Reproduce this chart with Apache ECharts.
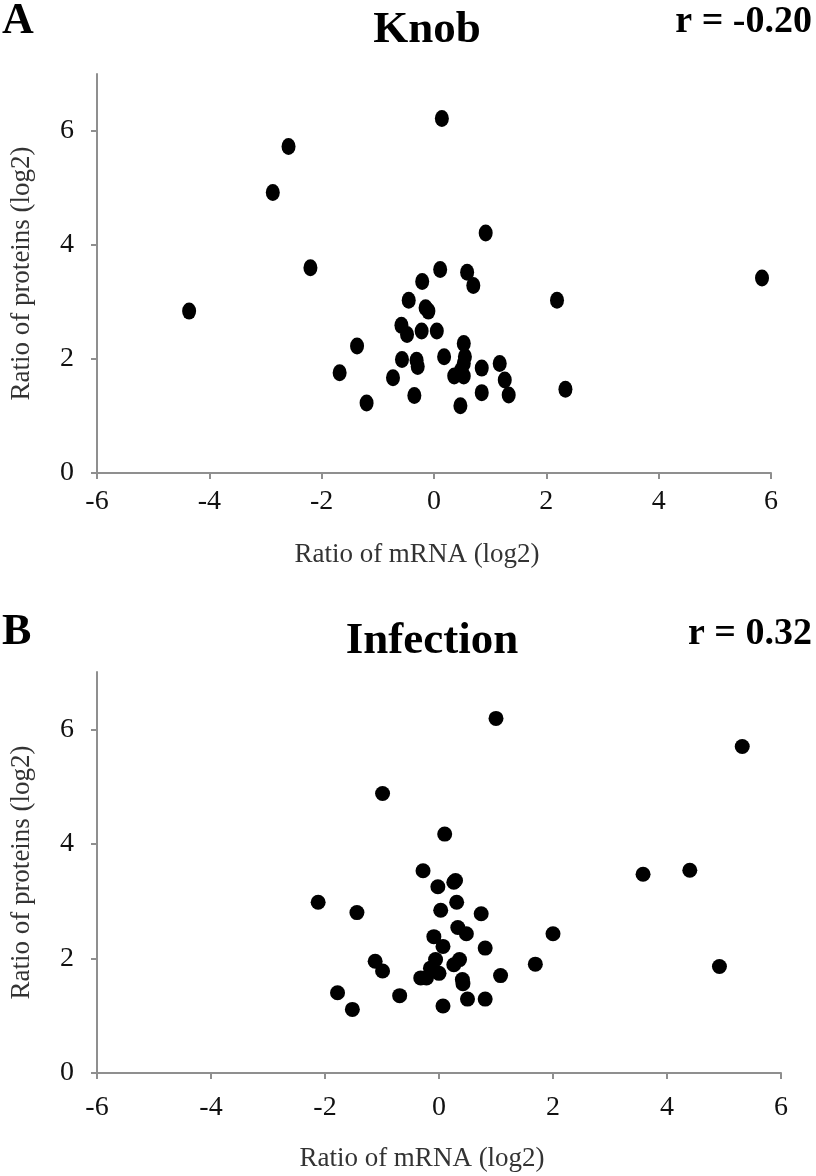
<!DOCTYPE html>
<html><head><meta charset="utf-8">
<script src="https://cdn.jsdelivr.net/npm/echarts@6/dist/echarts.min.js"></script>
<style>html,body{margin:0;padding:0;background:#fff}#c{width:816px;height:1176px}</style>
</head><body><div id="c"></div>
<script>
// Panel A: Knob  [mRNA log2 ratio, protein log2 ratio]
const knobPoints = [
  [-2.59,5.73],[-2.87,4.92],[-2.20,3.60],[-4.36,2.84],[-1.37,2.23],[-1.68,1.76],[-1.20,1.23],
  [0.14,6.22],[0.92,4.21],[0.11,3.57],[-0.21,3.36],[0.59,3.52],[0.70,3.29],[-0.45,3.03],[2.19,3.03],
  [-0.15,2.90],[-0.10,2.84],[-0.58,2.59],[-0.48,2.43],[-0.22,2.49],[0.05,2.49],[0.53,2.27],
  [0.55,2.04],[0.53,1.92],[0.48,1.80],[-0.57,1.99],[-0.31,1.98],[-0.29,1.87],[0.18,2.04],
  [0.36,1.70],[0.53,1.70],[0.85,1.84],[1.17,1.92],[1.26,1.63],[1.33,1.37],[0.85,1.41],
  [-0.73,1.67],[-0.35,1.36],[0.47,1.18],[2.34,1.47],[5.84,3.42]
];
// Panel B: Infection
const infectionPoints = [
  [-0.99,4.88],[1.00,6.19],[5.32,5.70],[0.10,4.17],[-0.28,3.53],[-0.02,3.25],[0.26,3.33],[0.29,3.36],
  [3.58,3.47],[4.40,3.54],[0.31,2.98],[0.03,2.84],[0.74,2.78],[0.33,2.54],[0.48,2.43],[2.00,2.43],
  [-0.09,2.38],[0.07,2.21],[0.81,2.18],[-0.06,1.98],[0.26,1.89],[0.36,1.98],[-0.15,1.83],[0.00,1.74],
  [-0.32,1.66],[-0.22,1.66],[0.41,1.63],[0.42,1.56],[1.08,1.70],[1.69,1.90],[4.92,1.86],[0.50,1.29],
  [0.81,1.29],[0.07,1.17],[-0.69,1.35],[-2.12,2.98],[-1.44,2.80],[-1.12,1.95],[-0.99,1.78],
  [-1.78,1.40],[-1.52,1.11]
];
const panelLetters = ['A','B'];
const panelTitles = ['Knob','Infection'];
const panelR = ['r = -0.20','r = 0.32'];
const xTicks = [-6,-4,-2,0,2,4,6];
const yTicks = [0,2,4,6];
const xLabel = 'Ratio of mRNA (log2)';
const yLabel = 'Ratio of proteins (log2)';

const serif = '"Liberation Serif","Times New Roman",serif';
const axisColor = '#8f8f8f';
function xAxis(i,gap,margin){return {gridIndex:i,type:'value',min:-6,max:6,interval:2,
  name:xLabel,nameLocation:'middle',nameGap:gap,
  nameTextStyle:{fontFamily:serif,fontSize:27,color:'#333',padding:[0,34,0,0]},
  axisLine:{onZero:false,lineStyle:{color:axisColor,width:2}},
  axisTick:{show:true,length:6,customValues:xTicks,lineStyle:{color:axisColor,width:2}},
  splitLine:{show:false},axisLabel:{customValues:xTicks,fontFamily:serif,fontSize:28,color:'#111',margin:margin}};}
function yAxis(i){return {gridIndex:i,type:'value',min:0,max:7,interval:2,
  name:yLabel,nameLocation:'middle',nameGap:62,
  nameTextStyle:{fontFamily:serif,fontSize:27,color:'#333'},
  axisLine:{show:true,onZero:false,lineStyle:{color:axisColor,width:2}},
  axisTick:{show:true,length:6,customValues:yTicks,lineStyle:{color:axisColor,width:2}},
  splitLine:{show:false},axisLabel:{customValues:yTicks,fontFamily:serif,fontSize:28,color:'#111',margin:23}};}

function txt(s,x,y,size,align){return {type:'text',x:x,y:y,style:{text:s,fill:'#000',
  font:'bold '+size+'px '+serif,align:align,verticalAlign:'middle'}};}

const chart = echarts.init(document.getElementById('c'));
chart.setOption({
  animation:false,
  backgroundColor:'#fff',
  graphic:[
    txt(panelLetters[0],2,22,44,'left'),
    txt(panelTitles[0],427,30,45,'center'),
    txt(panelR[0],812,22,38,'right'),
    txt(panelLetters[1],2,633,44,'left'),
    txt(panelTitles[1],432,641,45,'center'),
    txt(panelR[1],812,634,38,'right')
  ],
  grid:[
    {left:93,right:45,top:74,bottom:703},
    {left:94,right:35,top:672,bottom:103}
  ],
  xAxis:[xAxis(0,68,15),xAxis(1,72,21)],
  yAxis:[yAxis(0),yAxis(1)],
  series:[
    {type:'scatter',xAxisIndex:0,yAxisIndex:0,data:knobPoints,symbol:'circle',symbolSize:[14,17],itemStyle:{color:'#000',opacity:1}},
    {type:'scatter',xAxisIndex:1,yAxisIndex:1,data:infectionPoints,symbol:'circle',symbolSize:15,itemStyle:{color:'#000',opacity:1}}
  ]
});
</script></body></html>
